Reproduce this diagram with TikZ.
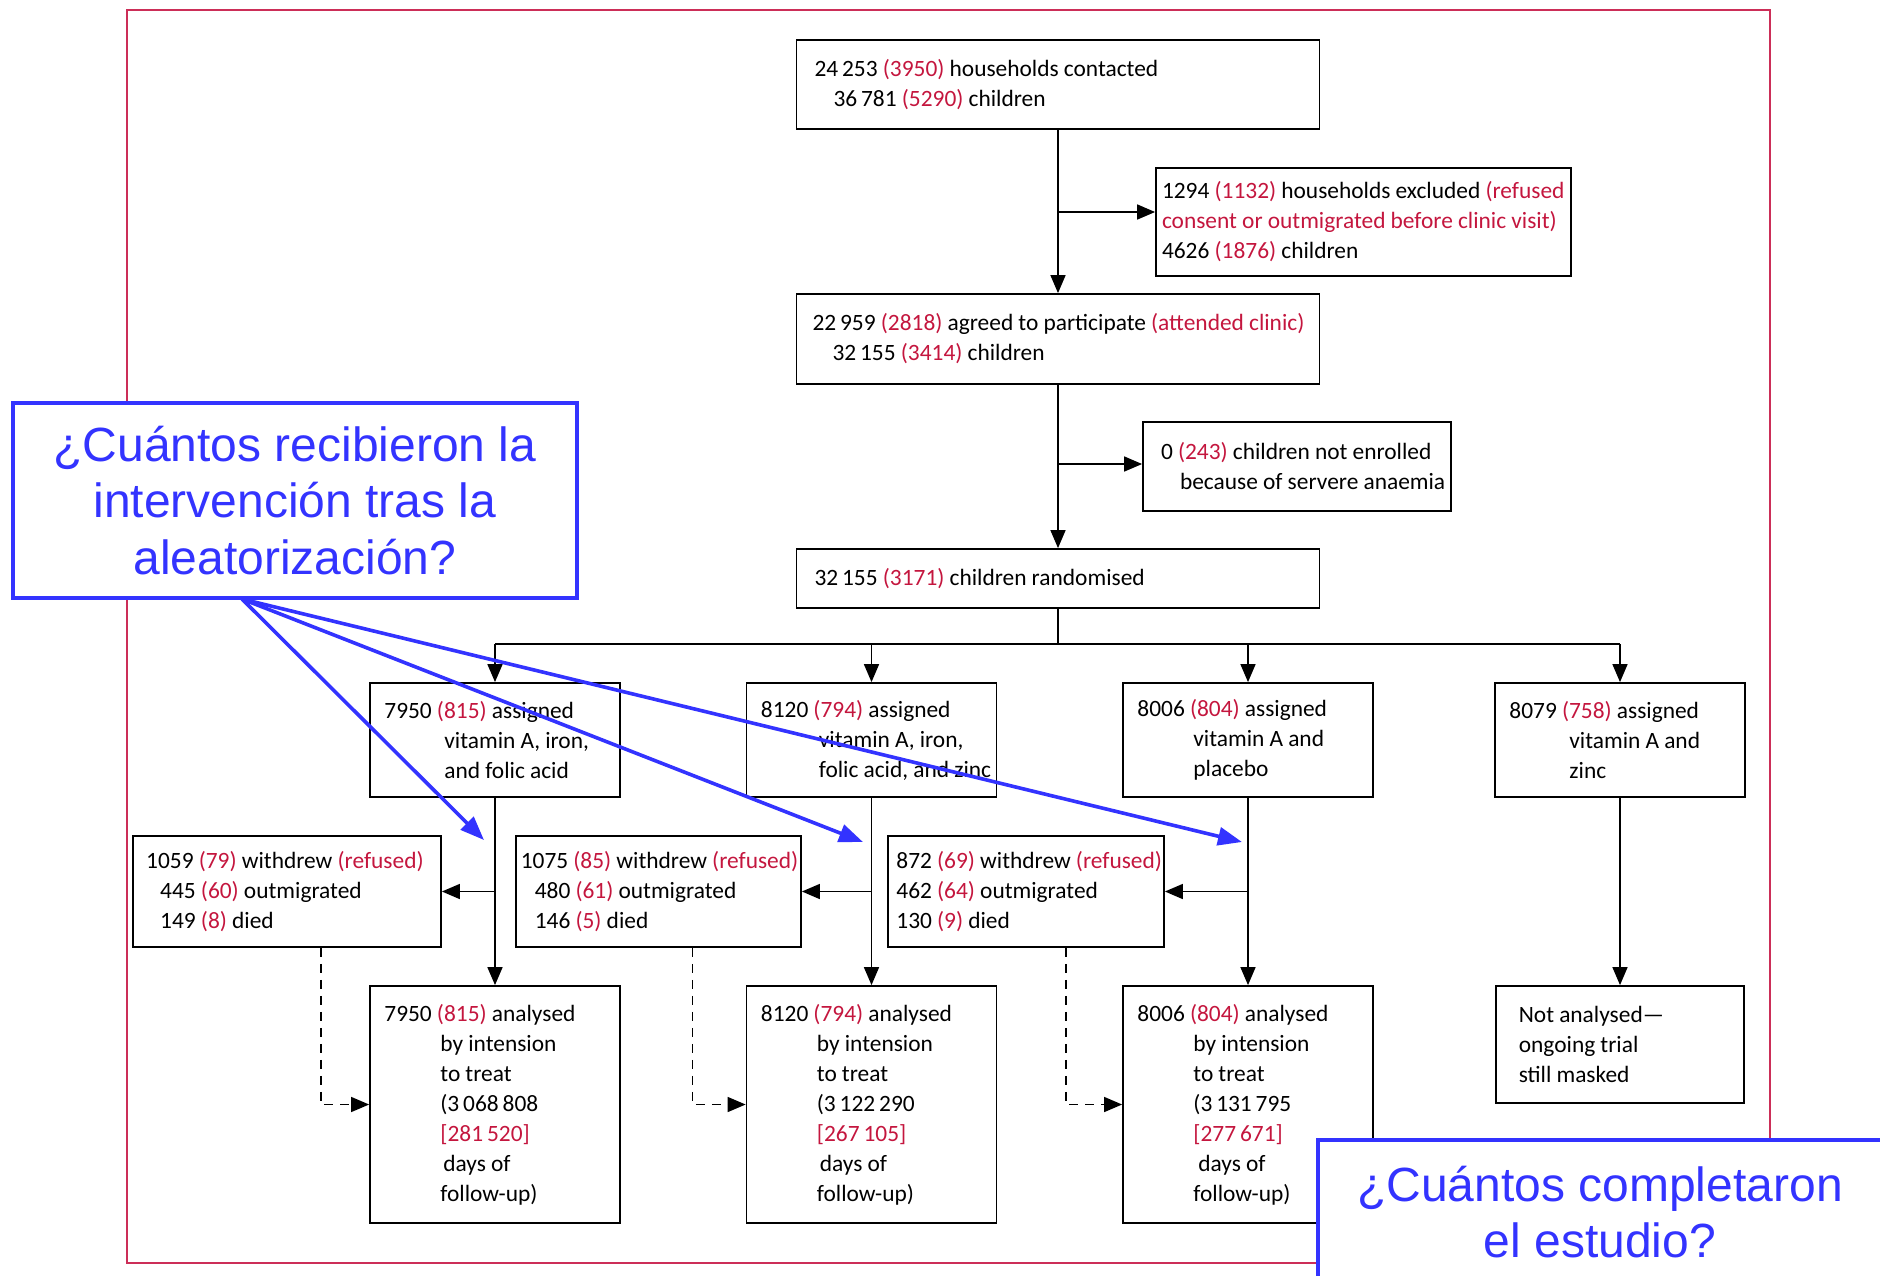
\documentclass[tikz,border=0pt]{standalone}
\usepackage{fontspec}
\setmainfont{Carlito}
\newfontfamily\qfont{Liberation Sans}
\usetikzlibrary{arrows.meta}
\definecolor{lancetred}{RGB}{196,22,62}
\definecolor{framered}{RGB}{204,46,88}
\definecolor{qblue}{RGB}{51,51,255}
\newcommand{\redn}[1]{\textcolor{lancetred}{#1}}

\begin{document}
\begin{tikzpicture}[x=0.5pt, y=-0.5pt]
        \tikzstyle{flowbox}=[draw, line width=0.9pt, align=left, inner ysep=2pt, font=\fontsize{11.7}{15}\selectfont, execute at begin node={\spaceskip=0.22em plus 0.1em minus 0.05em\relax}]
        \tikzstyle{armbox}=[flowbox, text width=110.6pt, inner xsep=7.2pt, minimum height=57pt]
        \tikzstyle{outbox}=[flowbox, text width=110.6pt, inner xsep=7.2pt, minimum height=118.5pt]
        \tikzstyle{lossbox}=[flowbox, minimum height=55.5pt]
        \tikzstyle{flowline}=[line width=0.8pt]
        \tikzstyle{flowarrow}=[flowline, -{Triangle[length=9pt,width=7.5pt]}]
        \tikzstyle{lossarrow}=[flowarrow, line width=0.7pt, dash pattern=on 4.5pt off 3.5pt]
        \tikzstyle{qtext}=[text=qblue, align=center, font=\qfont\fontsize{24}{28.3}\selectfont]
        \tikzstyle{question}=[qtext, draw=qblue, line width=1.6pt, fill=white]
        \tikzstyle{pointer}=[qblue, line width=1.8pt, -{Triangle[length=12pt,width=9pt]}]

        \useasboundingbox (0,0) rectangle (1880,1275);
        \clip (0,0) rectangle (1880,1275);
        \draw[framered, line width=1.1pt] (127,10) rectangle (1770,1263);

        % enrolment
        \node[flowbox, text width=243.5pt, inner xsep=9pt, minimum height=44.5pt] (contact) at (1058,84.5) {24\,253 \redn{(3950)} households contacted\\\hspace*{9.5pt}36\,781 \redn{(5290)} children};
        \node[flowbox, text width=201.5pt, inner xsep=3pt, minimum height=54pt] (excluded) at (1363.5,222) {\mbox{1294 \redn{(1132)} households excluded \redn{(refused}}\\\mbox{\redn{consent or outmigrated before clinic visit)}}\\4626 \redn{(1876)} children};
        \node[flowbox, text width=245.5pt, inner xsep=8pt, minimum height=45pt] (agreed) at (1058,339) {\mbox{22\,959 \redn{(2818)} agreed to participate \redn{(attended clinic)}}\\\hspace*{10pt}32\,155 \redn{(3414)} children};
        \node[flowbox, text width=136pt, inner xsep=9pt, minimum height=44.5pt] (notenrol) at (1297,466.5) {\mbox{0 \redn{(243)} children not enrolled}\\\mbox{\hspace*{9.5pt}because of servere anaemia}};
        \node[flowbox, text width=243.5pt, inner xsep=9pt, minimum height=29.5pt] (random) at (1058,578.5) {32\,155 \redn{(3171)} children randomised};

        % allocation
        \node[armbox] (arm1) at (495,740) {7950 \redn{(815)} assigned\\\hspace*{30pt}vitamin A, iron,\\\hspace*{30pt}and folic acid};
        \node[armbox] (arm2) at (871.5,740) {8120 \redn{(794)} assigned\\\hspace*{29pt}vitamin A, iron,\\\mbox{\hspace*{29pt}folic acid, and zinc}};
        \node[armbox] (arm3) at (1248,740) {8006 \redn{(804)} assigned\\\hspace*{28pt}vitamin A and\\\hspace*{28pt}placebo};
        \node[armbox] (arm4) at (1620,740) {8079 \redn{(758)} assigned\\\hspace*{30pt}vitamin A and\\\hspace*{30pt}zinc};

        % losses
        \node[lossbox, text width=140.8pt, inner xsep=6.6pt] (wd1) at (287,891.5) {\mbox{1059 \redn{(79)} withdrew \redn{(refused)}}\\\hspace*{7pt}445 \redn{(60)} outmigrated\\\hspace*{7pt}149 \redn{(8)} died};
        \node[lossbox, text width=137.7pt, inner xsep=2.4pt] (wd2) at (658.5,891.5) {\mbox{1075 \redn{(85)} withdrew \redn{(refused)}}\\\hspace*{7pt}480 \redn{(61)} outmigrated\\\hspace*{7pt}146 \redn{(5)} died};
        \node[lossbox, text width=129.6pt, inner xsep=4.2pt] (wd3) at (1026,891.5) {\mbox{872 \redn{(69)} withdrew \redn{(refused)}}\\462 \redn{(64)} outmigrated\\130 \redn{(9)} died};

        % analysis
        \node[outbox] (an1) at (495,1104.5) {7950 \redn{(815)} analysed\\\hspace*{28pt}by intension\\\hspace*{28pt}to treat\\\hspace*{28pt}(3\,068\,808\\\hspace*{28pt}\redn{[281\,520]}\\\hspace*{29.5pt}days of\\\hspace*{28pt}follow-up)};
        \node[outbox] (an2) at (871.5,1104.5) {8120 \redn{(794)} analysed\\\hspace*{28pt}by intension\\\hspace*{28pt}to treat\\\hspace*{28pt}(3\,122\,290\\\hspace*{28pt}\redn{[267\,105]}\\\hspace*{29.5pt}days of\\\hspace*{28pt}follow-up)};
        \node[outbox] (an3) at (1248,1104.5) {8006 \redn{(804)} analysed\\\hspace*{28pt}by intension\\\hspace*{28pt}to treat\\\hspace*{28pt}(3\,131\,795\\\hspace*{28pt}\redn{[277\,671]}\\\hspace*{30.5pt}days of\\\hspace*{28pt}follow-up)};
        \node[flowbox, text width=101.2pt, inner xsep=11.4pt, minimum height=58.5pt] (notanal) at (1620,1044.5) {Not analysed---\\ongoing trial\\still masked};

        % connectors
        \draw[flowarrow] (contact) -- (agreed);
        \coordinate (exj) at (1058,212);
        \draw[flowarrow] (exj) -- (exj -| excluded.west);
        \draw[flowarrow] (agreed) -- (random);
        \coordinate (nej) at (1058,464);
        \draw[flowarrow] (nej) -- (nej -| notenrol.west);
        \coordinate (split) at (1058,644);
        \draw[flowline] (random) -- (split);
        \draw[flowline] (split -| arm1) -- (split -| arm4);
        \foreach \a in {arm1,arm2,arm3,arm4} \draw[flowarrow] (split -| \a) -- (\a);
        \foreach \k/\s in {1/17pt,2/17pt,3/20pt} {
            \draw[flowarrow] (arm\k) -- (an\k);
            \draw[flowarrow] (arm\k |- wd\k) -- (wd\k);
            \draw[lossarrow] ([xshift=\s]wd\k.south) |- (an\k.west);
        }
        \draw[flowarrow] (arm4) -- (notanal);

        % questions
        \node[question, minimum width=282pt, minimum height=97.5pt, inner sep=0pt] (recib) at (295,500.5) {¿Cuántos recibieron la\\intervención tras la\\aleatorización?};
        \draw[qblue, line width=1.6pt, fill=white] (1318,1140) rectangle (1900,1300);
        \node[qtext] (complet) at (1600,1212) {¿Cuántos completaron\\el estudio?};
        \coordinate (qfoot) at (242,599);
        \coordinate (p1) at (484,840);
        \coordinate (p2) at (863,842);
        \coordinate (p3) at (1242,842);
        \foreach \p in {p1,p2,p3} \draw[pointer] (qfoot) -- (\p);
\end{tikzpicture}
\end{document}
